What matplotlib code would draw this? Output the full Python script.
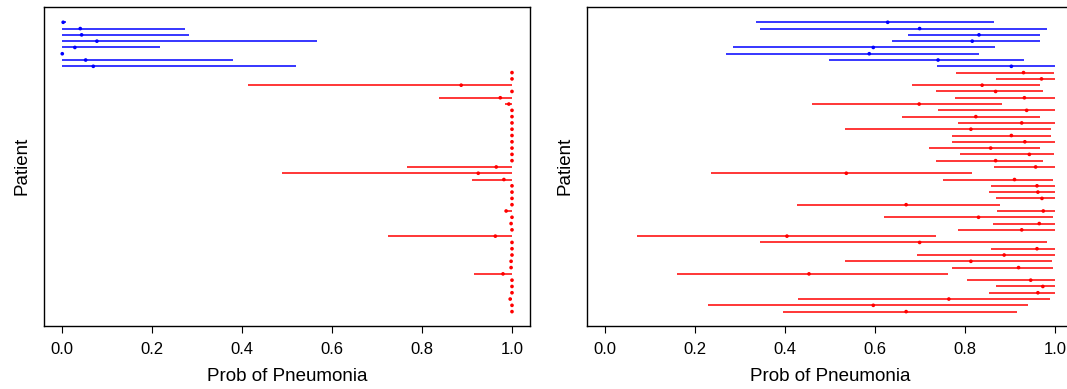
import matplotlib
matplotlib.use("Agg")
import matplotlib.pyplot as plt

plt.rcParams['font.family'] = ['Liberation Sans', 'DejaVu Sans']

# patient class: first 8 patients are "no pneumonia" (blue), remaining 39 are "pneumonia" (red)
n_neg = 8
n_pos = 39

# left panel: point estimate and interval for each patient (top to bottom)
left_est = [0.002, 0.040, 0.043, 0.077, 0.028, 0.000, 0.052, 0.069,
            1.000, 1.000, 0.887, 1.000, 0.974, 0.993, 1.000, 1.000, 1.000, 1.000,
            1.000, 1.000, 1.000, 1.000, 1.000, 0.965, 0.925, 0.982, 1.000, 1.000,
            1.000, 1.000, 0.987, 1.000, 0.998, 1.000, 0.963, 1.000, 1.000, 1.000,
            0.998, 0.998, 0.980, 1.000, 1.000, 1.000, 0.996, 1.000, 1.000]
left_lo = [0.000, 0.000, 0.000, 0.000, 0.000, 0.000, 0.000, 0.000,
           0.999, 0.999, 0.414, 0.999, 0.837, 0.984, 0.999, 0.999, 0.999, 0.999,
           0.999, 0.999, 0.999, 0.999, 0.999, 0.766, 0.489, 0.910, 0.999, 0.999,
           0.999, 0.999, 0.990, 0.999, 0.998, 0.999, 0.724, 0.999, 0.999, 0.999,
           0.998, 0.998, 0.915, 0.999, 0.999, 0.999, 0.996, 0.999, 0.999]
left_hi = [0.008, 0.274, 0.282, 0.567, 0.218, 0.001, 0.380, 0.519,
           1.000, 1.000, 1.000, 1.000, 1.000, 1.000, 1.000, 1.000, 1.000, 1.000,
           1.000, 1.000, 1.000, 1.000, 1.000, 1.000, 1.000, 1.000, 1.000, 1.000,
           1.000, 1.000, 1.000, 1.000, 1.000, 1.000, 1.000, 1.000, 1.000, 1.000,
           1.000, 1.000, 1.000, 1.000, 1.000, 1.000, 1.000, 1.000, 1.000]

# right panel
right_est = [0.628, 0.699, 0.831, 0.816, 0.596, 0.587, 0.740, 0.903,
             0.930, 0.970, 0.838, 0.868, 0.932, 0.698, 0.937, 0.824, 0.926, 0.813,
             0.903, 0.933, 0.857, 0.943, 0.868, 0.957, 0.536, 0.910, 0.960, 0.962,
             0.971, 0.669, 0.974, 0.830, 0.965, 0.926, 0.404, 0.699, 0.960, 0.887,
             0.813, 0.919, 0.453, 0.946, 0.973, 0.962, 0.764, 0.596, 0.669]
right_lo = [0.336, 0.343, 0.673, 0.638, 0.283, 0.268, 0.497, 0.737,
            0.779, 0.868, 0.681, 0.735, 0.778, 0.459, 0.739, 0.660, 0.785, 0.534,
            0.770, 0.772, 0.719, 0.789, 0.736, 0.864, 0.236, 0.752, 0.857, 0.853,
            0.869, 0.426, 0.872, 0.619, 0.862, 0.785, 0.071, 0.343, 0.857, 0.694,
            0.534, 0.770, 0.160, 0.805, 0.869, 0.853, 0.428, 0.228, 0.396]
right_hi = [0.864, 0.982, 0.966, 0.966, 0.867, 0.830, 0.932, 0.999,
            0.998, 1.000, 0.966, 0.974, 1.000, 0.883, 1.000, 0.966, 1.000, 0.992,
            0.991, 1.000, 0.966, 0.998, 0.974, 1.000, 0.816, 0.996, 1.000, 1.000,
            1.000, 0.878, 1.000, 0.996, 1.000, 1.000, 0.736, 0.982, 1.000, 0.999,
            0.993, 0.996, 0.763, 0.999, 1.000, 1.000, 0.990, 0.939, 0.916]

xticks = [0.0, 0.2, 0.4, 0.6, 0.8, 1.0]
xtick_labels = ["0.0", "0.2", "0.4", "0.6", "0.8", "1.0"]


def draw_panel(ax, est, lo, hi):
    n = len(est)
    rows = list(range(1, n + 1))
    colors = ['#0000FF'] * n_neg + ['#FF0000'] * n_pos
    ax.hlines(rows, lo, hi, colors=colors, linewidth=1.1)
    ax.scatter(est, rows, c=colors, s=7, linewidths=0, zorder=3)
    ax.set_xlim(-0.04, 1.04)
    ax.set_ylim(n + 2.24, 1 - 2.43)
    ax.set_xticks(xticks)
    ax.set_xticklabels(xtick_labels, fontsize=12)
    ax.set_yticks([])
    ax.tick_params(axis='x', direction='out', length=5, width=0.8, pad=7)
    for sp in ax.spines.values():
        sp.set_color('black')
        sp.set_linewidth(1.0)
    ax.set_xlabel("Prob of Pneumonia", fontsize=13.5, labelpad=8)
    ax.set_ylabel("Patient", fontsize=13.5, labelpad=10)


fig = plt.figure(figsize=(10.67, 3.89), dpi=100)
ax1 = fig.add_axes([0.0415, 0.1627, 0.4552, 0.8193])
ax2 = fig.add_axes([0.5504, 0.1627, 0.4552, 0.8193])
draw_panel(ax1, left_est, left_lo, left_hi)
draw_panel(ax2, right_est, right_lo, right_hi)

fig.savefig("out.png", dpi=100)
plt.close(fig)
